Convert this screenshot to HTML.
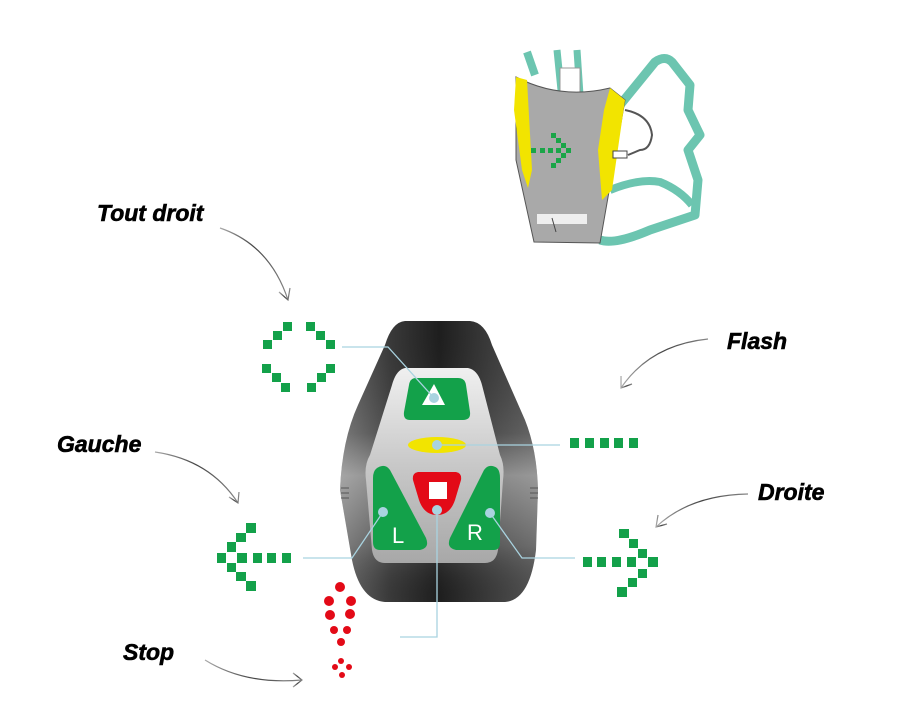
<!DOCTYPE html>
<html><head><meta charset="utf-8"><style>
html,body{margin:0;padding:0;background:#fff;}
svg{display:block;}
.lbl{font-family:"Liberation Sans",sans-serif;font-weight:bold;font-style:italic;font-size:23px;fill:#000;stroke:#000;stroke-width:0.6;}
</style></head><body>
<svg width="900" height="720" viewBox="0 0 900 720" xmlns="http://www.w3.org/2000/svg">
<defs>
<linearGradient id="shell" x1="0" x2="1" y1="0" y2="0">
<stop offset="0" stop-color="#6a6a6a"/><stop offset="0.25" stop-color="#3a3a3a"/><stop offset="0.5" stop-color="#1e1e1e"/><stop offset="0.75" stop-color="#3a3a3a"/><stop offset="1" stop-color="#555"/>
</linearGradient>
<linearGradient id="shellSide" x1="0" x2="0" y1="0" y2="1">
<stop offset="0" stop-color="#000" stop-opacity="0"/><stop offset="0.4" stop-color="#fff" stop-opacity="0.1"/><stop offset="0.55" stop-color="#fff" stop-opacity="0.4"/><stop offset="0.8" stop-color="#fff" stop-opacity="0.15"/><stop offset="1" stop-color="#000" stop-opacity="0"/>
</linearGradient>
<linearGradient id="panel" x1="0" x2="0" y1="0" y2="1">
<stop offset="0" stop-color="#f0f0f0"/><stop offset="0.5" stop-color="#c8c8c8"/><stop offset="1" stop-color="#a8a8a8"/>
</linearGradient>
<linearGradient id="arr" x1="0" x2="1"><stop offset="0" stop-color="#aaa"/><stop offset="0.5" stop-color="#444"/><stop offset="1" stop-color="#888"/></linearGradient>
</defs>

<!-- Vest -->
<g>
<path d="M557 50 L562 100 M577 50 L580 95" stroke="#6cc5b0" stroke-width="7" fill="none"/>
<path d="M527 52 L535 75" stroke="#6cc5b0" stroke-width="8" fill="none"/>
<rect x="560" y="68" width="20" height="30" fill="#fff" stroke="#999" stroke-width="1"/>
<path d="M620 105 L655 62 Q665 55 672 62 L690 85 L688 110 L700 135 L688 150 L698 180 L695 215 L650 230 Q615 245 600 240" stroke="#6cc5b0" stroke-width="9" fill="none" stroke-linejoin="round"/>
<path d="M610 190 Q640 178 660 182 Q680 190 692 205" stroke="#6cc5b0" stroke-width="8" fill="none"/>
<path d="M516 77 Q560 100 610 88 L625 100 L600 243 L534 242 L516 160 Z" fill="#a9a9a9" stroke="#555" stroke-width="1"/>
<path d="M516 77 L527 80 L532 170 L528 188 L522 170 L514 110 Z" fill="#f2e400"/>
<path d="M610 88 L625 100 L612 190 L602 200 L598 150 L604 110 Z" fill="#f2e400"/>
<rect x="537" y="214" width="50" height="10" fill="#eee"/>
<path d="M552 218 L556 232" stroke="#444" stroke-width="1"/>
<path d="M625 110 Q650 115 652 135 Q650 150 640 150 L628 155" stroke="#555" stroke-width="2" fill="none"/>
<rect x="613" y="151" width="14" height="7" fill="#fff" stroke="#444" stroke-width="1"/>
<g fill="#1aa548">
<rect x="531" y="148" width="5" height="5"/><rect x="540" y="148" width="5" height="5"/><rect x="548" y="148" width="5" height="5"/><rect x="556" y="148" width="5" height="5"/><rect x="566" y="148" width="5" height="5"/>
<rect x="551" y="133" width="5" height="5"/><rect x="556" y="138" width="5" height="5"/><rect x="561" y="143" width="5" height="5"/>
<rect x="561" y="153" width="5" height="5"/><rect x="556" y="158" width="5" height="5"/><rect x="551" y="163" width="5" height="5"/>
</g>
</g>

<!-- Device -->
<path d="M405 321 L470 321 Q485 322 492 345 L525 420 Q537 450 538 490 L536 550 Q530 600 505 602 L385 602 Q360 600 352 560 L340 490 Q342 440 358 405 L385 345 Q392 322 405 321 Z" fill="url(#shell)"/>
<path d="M405 321 L470 321 Q485 322 492 345 L525 420 Q537 450 538 490 L536 550 Q530 600 505 602 L385 602 Q360 600 352 560 L340 490 Q342 440 358 405 L385 345 Q392 322 405 321 Z" fill="url(#shellSide)"/>
<g stroke="#555" stroke-width="1">
<path d="M341 488 h8 M341 493 h8 M341 498 h8 M530 488 h8 M530 493 h8 M530 498 h8"/>
</g>
<path d="M405 368 L468 368 Q478 370 482 385 L500 455 Q505 465 503 480 L498 550 Q496 563 485 563 L385 563 Q374 563 372 550 L366 480 Q364 465 370 455 L392 385 Q396 370 405 368 Z" fill="url(#panel)"/>
<path d="M416 378 L458 378 Q465 378 466 385 L470 412 Q471 420 463 420 L410 420 Q403 420 404 412 L409 385 Q410 378 416 378 Z" fill="#13a14a"/>
<polygon points="434,384 445,405 422,405" fill="#fff"/>
<ellipse cx="437" cy="445" rx="29" ry="8" fill="#f2e400"/>
<path d="M418 472 L456 472 Q462 473 461 480 L455 500 Q450 515 437 515 Q424 515 419 500 L413 480 Q412 473 418 472 Z" fill="#e30a17"/>
<rect x="429" y="482" width="18" height="17" fill="#fff"/>
<path d="M377 468 Q385 463 390 470 L426 538 Q430 548 420 550 L380 550 Q373 550 373 542 L373 478 Q373 471 377 468 Z" fill="#13a14a"/>
<path d="M497 468 Q489 463 484 470 L450 538 Q446 548 456 550 L494 550 Q500 550 500 542 L500 478 Q500 471 497 468 Z" fill="#13a14a"/>
<text x="392" y="543" font-family="Liberation Sans,sans-serif" font-size="22" fill="#fff">L</text>
<text x="467" y="540" font-family="Liberation Sans,sans-serif" font-size="22" fill="#fff">R</text>

<!-- Leader lines -->
<g stroke="#a9d3e0" stroke-width="1.3" fill="none">
<path d="M342 347 L388 347 L434 398"/>
<path d="M437 445 L560 445"/>
<path d="M303 558 L352 558 L383 512"/>
<path d="M490 513 L522 558 L575 558"/>
<path d="M437 510 L437 637 L400 637"/>
</g>
<g fill="#a9d3e0">
<circle cx="434" cy="398" r="5"/><circle cx="437" cy="445" r="5"/><circle cx="437" cy="510" r="5"/><circle cx="383" cy="512" r="5"/><circle cx="490" cy="513" r="5"/>
</g>

<!-- Green patterns -->
<g fill="#13a14a">
<rect x="283" y="322" width="9" height="9"/><rect x="273" y="331" width="9" height="9"/><rect x="263" y="340" width="9" height="9"/>
<rect x="306" y="322" width="9" height="9"/><rect x="316" y="331" width="9" height="9"/><rect x="326" y="340" width="9" height="9"/>
<rect x="262" y="364" width="9" height="9"/><rect x="272" y="373" width="9" height="9"/><rect x="281" y="383" width="9" height="9"/>
<rect x="326" y="364" width="9" height="9"/><rect x="317" y="373" width="9" height="9"/><rect x="307" y="383" width="9" height="9"/>
<rect x="570" y="438" width="9" height="10"/><rect x="585" y="438" width="9" height="10"/><rect x="600" y="438" width="9" height="10"/><rect x="614" y="438" width="9" height="10"/><rect x="629" y="438" width="9" height="10"/>
<rect x="217" y="553" width="9" height="10"/><rect x="237" y="553" width="10" height="10"/><rect x="253" y="553" width="9" height="10"/><rect x="267" y="553" width="9" height="10"/><rect x="282" y="553" width="9" height="10"/>
<rect x="246" y="523" width="10" height="10"/><rect x="236" y="533" width="10" height="9"/><rect x="227" y="542" width="9" height="10"/>
<rect x="227" y="563" width="9" height="9"/><rect x="236" y="572" width="10" height="9"/><rect x="246" y="581" width="10" height="10"/>
<rect x="583" y="557" width="9" height="10"/><rect x="597" y="557" width="9" height="10"/><rect x="612" y="557" width="9" height="10"/><rect x="627" y="557" width="9" height="10"/><rect x="648" y="557" width="10" height="10"/>
<rect x="619" y="529" width="10" height="9"/><rect x="629" y="539" width="9" height="9"/><rect x="638" y="549" width="9" height="9"/>
<rect x="638" y="569" width="9" height="9"/><rect x="628" y="578" width="9" height="9"/><rect x="617" y="587" width="10" height="10"/>
</g>
<g fill="#e30a17">
<circle cx="340" cy="587" r="5"/><circle cx="329" cy="601" r="5"/><circle cx="351" cy="601" r="5"/><circle cx="330" cy="615" r="5"/><circle cx="350" cy="614" r="5"/>
<circle cx="334" cy="630" r="4"/><circle cx="347" cy="630" r="4"/><circle cx="341" cy="642" r="4"/>
<circle cx="341" cy="661" r="3"/><circle cx="335" cy="667" r="3"/><circle cx="349" cy="667" r="3"/><circle cx="342" cy="675" r="3"/>
</g>

<!-- Curved arrows -->
<g stroke="url(#arr)" stroke-width="1.2" fill="none">
<path d="M220 228 Q270 245 288 300"/><path d="M279 292 L288 300 L290 288"/>
<path d="M155 452 Q210 460 238 503"/><path d="M229 497 L238 503 L239 492"/>
<path d="M205 660 Q245 685 302 680"/><path d="M293 673 L302 680 L293 687"/>
<path d="M708 339 Q650 345 621 388"/><path d="M621 376 L621 388 L632 384"/>
<path d="M748 494 Q690 495 656 527"/><path d="M658 515 L656 527 L667 524"/>
</g>

<text class="lbl" x="97" y="221">Tout droit</text>
<text class="lbl" x="727" y="349">Flash</text>
<text class="lbl" x="57" y="452">Gauche</text>
<text class="lbl" x="758" y="500">Droite</text>
<text class="lbl" x="123" y="660">Stop</text>
</svg>
</body></html>
